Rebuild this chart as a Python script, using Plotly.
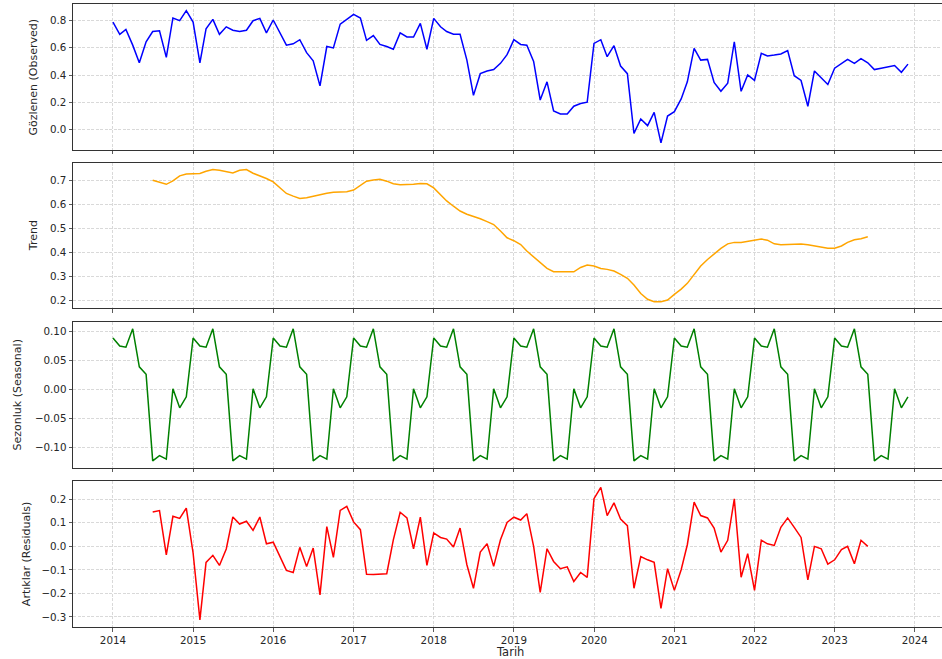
import pandas as pd
import plotly.graph_objects as go
from plotly.subplots import make_subplots

dates = pd.date_range("2014-01-01", periods=120, freq="MS")

observed = [
    0.79, 0.70, 0.736, 0.62, 0.49, 0.645, 0.72, 0.726, 0.53, 0.82, 0.80, 0.874,
    0.79, 0.49, 0.74, 0.81, 0.70, 0.755, 0.73, 0.72, 0.73, 0.80, 0.817, 0.71,
    0.805, 0.71, 0.62, 0.63, 0.66, 0.565, 0.505, 0.32, 0.61, 0.60, 0.775, 0.81,
    0.847, 0.82, 0.655, 0.69, 0.625, 0.61, 0.59, 0.71, 0.68, 0.68, 0.78, 0.59,
    0.817, 0.755, 0.72, 0.70, 0.70, 0.51, 0.25, 0.41, 0.43, 0.44, 0.486, 0.55,
    0.66, 0.625, 0.62, 0.50, 0.216, 0.35, 0.135, 0.113, 0.113, 0.17, 0.19, 0.20,
    0.633, 0.66, 0.535, 0.616, 0.466, 0.41, -0.03, 0.076, 0.027, 0.125, -0.10, 0.098,
    0.13, 0.224, 0.35, 0.596, 0.51, 0.515, 0.346, 0.28, 0.34, 0.645, 0.28, 0.40,
    0.36, 0.56, 0.54, 0.547, 0.555, 0.58, 0.395, 0.36, 0.17, 0.43, 0.38, 0.33,
    0.45, 0.486, 0.515, 0.486, 0.52, 0.49, 0.44, 0.45, 0.46, 0.47, 0.42, 0.48,
]

trend = [None] * 6 + [
    0.700, 0.690, 0.683, 0.697, 0.718, 0.726,
    0.728, 0.728, 0.737, 0.744, 0.741, 0.735, 0.730, 0.741, 0.744, 0.729, 0.718, 0.707,
    0.693, 0.668, 0.645, 0.634, 0.624, 0.627, 0.634, 0.641, 0.646, 0.650, 0.650, 0.652,
    0.659, 0.677, 0.696, 0.701, 0.704, 0.696, 0.685, 0.681, 0.681, 0.683, 0.686, 0.685,
    0.668, 0.641, 0.614, 0.592, 0.572, 0.559, 0.550, 0.540, 0.528, 0.516, 0.489, 0.461,
    0.449, 0.433, 0.406, 0.382, 0.359, 0.334, 0.320, 0.320, 0.319, 0.320, 0.338, 0.348,
    0.344, 0.334, 0.330, 0.323, 0.309, 0.293, 0.265, 0.230, 0.206, 0.196, 0.196, 0.203,
    0.226, 0.248, 0.272, 0.309, 0.344, 0.371, 0.395, 0.417, 0.436, 0.442, 0.442, 0.446,
    0.451, 0.456, 0.451, 0.436, 0.432, 0.433, 0.435, 0.435, 0.432, 0.428, 0.423, 0.418,
    0.418, 0.427, 0.442, 0.453, 0.457, 0.465,
] + [None] * 6

seasonal_year = [0.089, 0.075, 0.073, 0.105, 0.039, 0.026,
                 -0.124, -0.115, -0.121, 0.001, -0.032, -0.013]
seasonal = seasonal_year * 10

resid = [None] * 6 + [
    0.146, 0.152, -0.036, 0.128, 0.119, 0.163,
    -0.028, -0.312, -0.068, -0.038, -0.081, -0.011, 0.125, 0.095, 0.107, 0.068, 0.125, 0.011,
    0.018, -0.043, -0.102, -0.111, -0.004, -0.085, -0.007, -0.206, 0.084, -0.047, 0.153, 0.170,
    0.104, 0.071, -0.118, -0.119, -0.119, -0.116, 0.028, 0.145, 0.121, -0.010, 0.124, -0.081,
    0.057, 0.038, 0.031, -0.003, 0.078, -0.078, -0.178, -0.024, 0.011, -0.085, 0.028, 0.102,
    0.124, 0.112, 0.139, 0.000, -0.195, -0.010, -0.064, -0.095, -0.087, -0.149, -0.111, -0.132,
    0.203, 0.251, 0.131, 0.185, 0.116, 0.088, -0.178, -0.043, -0.057, -0.068, -0.263, -0.095,
    -0.187, -0.099, 0.007, 0.188, 0.131, 0.121, 0.078, -0.024, 0.026, 0.202, -0.131, -0.031,
    -0.187, 0.026, 0.011, 0.004, 0.081, 0.121, 0.081, 0.038, -0.142, 0.000, -0.010, -0.075,
    -0.057, -0.014, 0.000, -0.074, 0.026, 0.000,
] + [None] * 6

year_ticks = [f"{y}-01-01" for y in range(2014, 2025)]
year_labels = [str(y) for y in range(2014, 2025)]

panels = [
    ("Gözlenen (Observed)", observed, "blue", [-0.152, 0.923], [0.0, 0.2, 0.4, 0.6, 0.8], ".1f", 33.5),
    ("Trend", trend, "orange", [0.1686, 0.7714], [0.2, 0.3, 0.4, 0.5, 0.6, 0.7], ".1f", 33.5),
    ("Sezonluk (Seasonal)", seasonal, "green", [-0.1359, 0.1163], [-0.10, -0.05, 0.0, 0.05, 0.10], ".2f", 17.5),
    ("Artıklar (Residuals)", resid, "red", [-0.3426, 0.2767], [-0.3, -0.2, -0.1, 0.0, 0.1, 0.2], ".1f", 26),
]

W, H = 942, 659
ML, MR, MT, MB = 73, 0, 4, 32
domains = [[0.7657, 1.0], [0.5116, 0.7448], [0.2557, 0.4891], [0.0, 0.2339]]

fig = make_subplots(rows=4, cols=1, shared_xaxes=True)

font = "DejaVu Sans"
spine = "#333333"
grid = "#cfcfcf"
textc = "#262626"

annotations = []
for i, (title, vals, color, yr, ticks, fmt, tx) in enumerate(panels):
    r = i + 1
    fig.add_trace(go.Scatter(x=dates, y=vals, mode="lines",
                             line=dict(color=color, width=1.5),
                             connectgaps=False, showlegend=False,
                             hoverinfo="skip"), row=r, col=1)
    fig.update_yaxes(row=r, col=1, domain=domains[i], range=yr, tickvals=ticks,
                     tickformat=fmt, showline=True, linecolor=spine, linewidth=1,
                     mirror=False, ticks="outside", ticklen=3.5, tickwidth=0.8,
                     tickcolor=spine, showgrid=True, gridcolor=grid, griddash="3px,1.5px",
                     gridwidth=0.8, zeroline=False,
                     tickfont=dict(family=font, size=10.3, color=textc))
    fig.update_xaxes(row=r, col=1, range=["2013-07-03", "2024-05-04"],
                     tickvals=year_ticks, ticktext=year_labels,
                     showticklabels=(r == 4), showline=True, linecolor=spine,
                     linewidth=1, mirror=True, ticks="outside", ticklen=3.5,
                     tickwidth=0.8, tickcolor=spine, showgrid=True, gridcolor=grid,
                     griddash="3px,1.5px", gridwidth=0.8, zeroline=False,
                     tickfont=dict(family=font, size=10.3, color=textc))
    yc = (domains[i][0] + domains[i][1]) / 2
    annotations.append(dict(text=title, textangle=-90, xref="paper", yref="paper",
                            x=(tx - ML) / (W - ML - MR), y=yc, xanchor="center",
                            yanchor="middle", showarrow=False,
                            font=dict(family=font, size=11, color=textc)))

annotations.append(dict(text="Tarih", xref="paper", yref="paper",
                        x=(510 - ML) / (W - ML - MR), y=-(652 - (H - MB)) / (H - MT - MB),
                        xanchor="center", yanchor="middle", showarrow=False,
                        font=dict(family=font, size=11.5, color=textc)))

fig.update_layout(width=W, height=H, margin=dict(l=ML, r=MR, t=MT, b=MB),
                  paper_bgcolor="white", plot_bgcolor="white",
                  annotations=annotations, font=dict(family=font),
                  hovermode=False)

fig.write_html("out.html", config={"displayModeBar": False, "staticPlot": True},
               post_script="document.body.style.margin='0';document.body.style.overflow='hidden';")
